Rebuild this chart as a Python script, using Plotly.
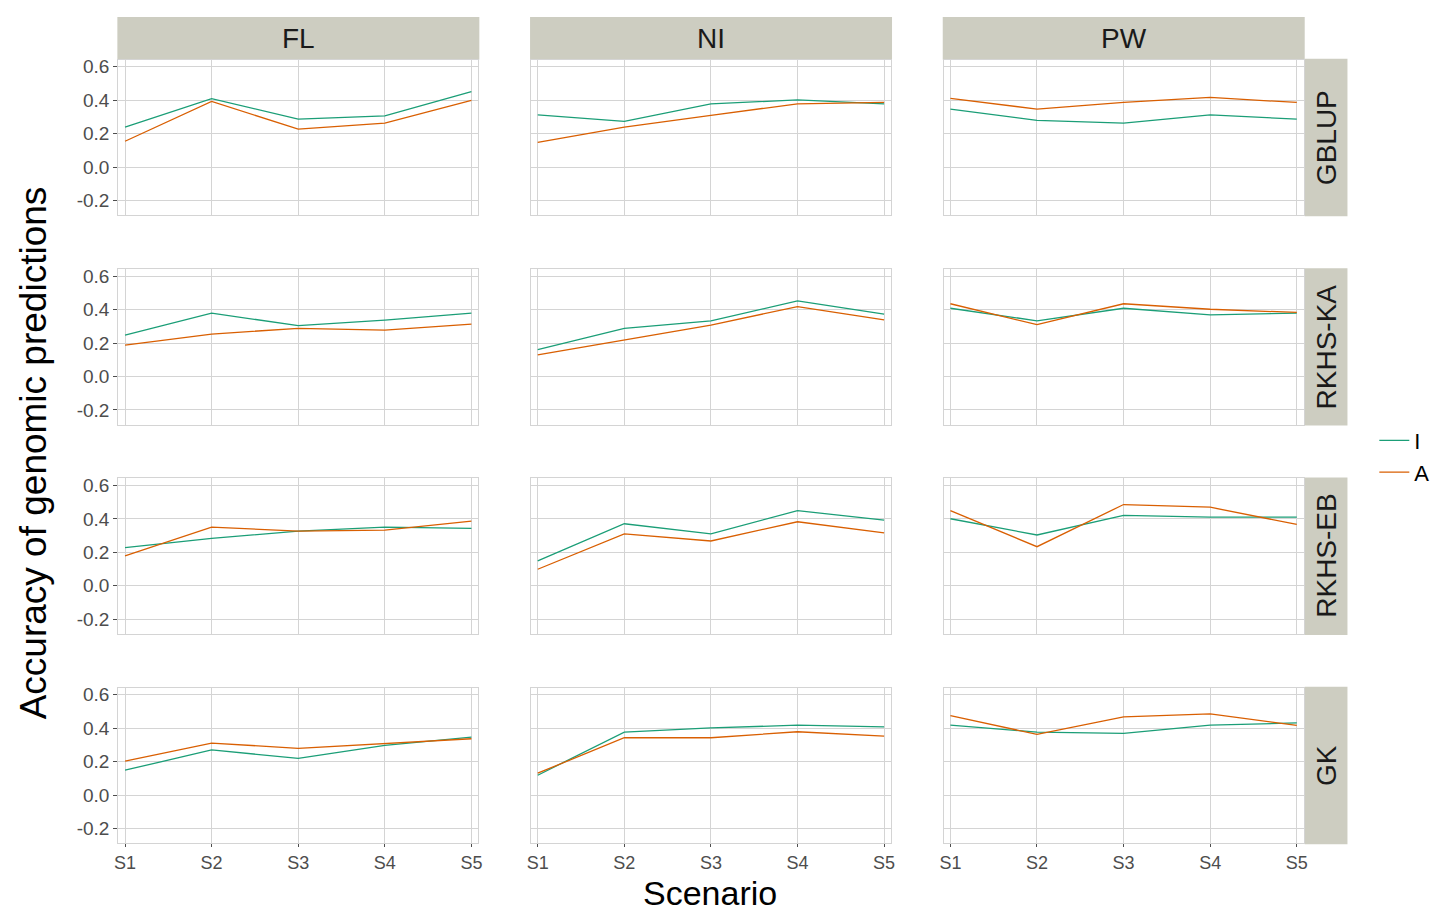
import plotly.graph_objects as go

# Facet layout: traits in columns, models in rows
traits = ["FL", "NI", "PW"]
models = ["GBLUP", "RKHS-KA", "RKHS-EB", "GK"]
scenarios = ["S1", "S2", "S3", "S4", "S5"]
scenario_pos = [1, 2, 3, 4, 5]

# Accuracy values for genotype set "I", per model then trait (S1..S5)
acc_I = {
    "GBLUP": {"FL": [0.240, 0.410, 0.287, 0.307, 0.452],
              "NI": [0.313, 0.274, 0.379, 0.402, 0.379],
              "PW": [0.347, 0.280, 0.264, 0.313, 0.287]},
    "RKHS-KA": {"FL": [0.248, 0.379, 0.304, 0.337, 0.379],
                "NI": [0.161, 0.288, 0.333, 0.452, 0.373],
                "PW": [0.408, 0.333, 0.408, 0.369, 0.379]},
    "RKHS-EB": {"FL": [0.228, 0.284, 0.327, 0.351, 0.343],
                "NI": [0.149, 0.371, 0.311, 0.450, 0.393],
                "PW": [0.401, 0.304, 0.421, 0.411, 0.411]},
    "GK": {"FL": [0.149, 0.270, 0.220, 0.298, 0.347],
           "NI": [0.119, 0.377, 0.402, 0.418, 0.408],
           "PW": [0.418, 0.377, 0.369, 0.418, 0.432]},
}

# Accuracy values for genotype set "A"
acc_A = {
    "GBLUP": {"FL": [0.155, 0.393, 0.228, 0.264, 0.399],
              "NI": [0.149, 0.240, 0.310, 0.379, 0.387],
              "PW": [0.412, 0.347, 0.387, 0.417, 0.387]},
    "RKHS-KA": {"FL": [0.188, 0.254, 0.288, 0.277, 0.313],
                "NI": [0.129, 0.220, 0.307, 0.418, 0.339],
                "PW": [0.435, 0.310, 0.435, 0.402, 0.383]},
    "RKHS-EB": {"FL": [0.179, 0.351, 0.327, 0.333, 0.387],
                "NI": [0.099, 0.311, 0.268, 0.383, 0.317],
                "PW": [0.450, 0.234, 0.486, 0.470, 0.367]},
    "GK": {"FL": [0.204, 0.311, 0.280, 0.307, 0.337],
           "NI": [0.131, 0.343, 0.343, 0.379, 0.353],
           "PW": [0.476, 0.363, 0.468, 0.486, 0.417]},
}

y_ticks = [-0.2, 0.0, 0.2, 0.4, 0.6]
y_tick_text = ["-0.2", "0.0", "0.2", "0.4", "0.6"]

color_I = "#1b9e77"
color_A = "#d95f02"
grid_col = "#d4d4d4"
strip_col = "#cdcdc1"
tick_col = "#4d4d4d"
FONT = "Liberation Sans, Arial, sans-serif"

W, H = 1435, 914
col_x = [(115, 477), (530, 892), (945, 1307)]
row_y = [(57, 213), (267, 423), (477, 633), (687, 843)]
strip_top = 14
strip_right = 1351


def px_x(v):
    return v / W


def px_y(v):
    return 1 - v / H


fig = go.Figure()
layout = {}
shapes = []
annotations = []

for r, model in enumerate(models):
    for c, trait in enumerate(traits):
        idx = r * 3 + c + 1
        xa = "xaxis" if idx == 1 else f"xaxis{idx}"
        ya = "yaxis" if idx == 1 else f"yaxis{idx}"
        xref = "x" if idx == 1 else f"x{idx}"
        yref = "y" if idx == 1 else f"y{idx}"
        x0, x1 = col_x[c]
        y0, y1 = row_y[r]
        layout[xa] = dict(
            domain=[px_x(x0), px_x(x1)], anchor=yref, range=[0.923, 5.08],
            tickmode="array", tickvals=scenario_pos, ticktext=scenarios,
            showticklabels=(r == 3), ticks="outside" if r == 3 else "",
            ticklen=3, tickcolor=tick_col, tickwidth=1,
            tickfont=dict(family=FONT, size=18, color=tick_col),
            showgrid=True, gridcolor=grid_col, gridwidth=1.3,
            showline=True, mirror=True, linecolor=grid_col, linewidth=1.3,
            zeroline=False, fixedrange=True,
        )
        layout[ya] = dict(
            domain=[px_y(y1), px_y(y0)], anchor=xref, range=[-0.2875, 0.642],
            tickmode="array", tickvals=y_ticks, ticktext=y_tick_text,
            showticklabels=(c == 0), ticks="outside" if c == 0 else "",
            ticklen=4, tickcolor=tick_col, tickwidth=1,
            tickfont=dict(family=FONT, size=19, color=tick_col),
            showgrid=True, gridcolor=grid_col, gridwidth=1.3,
            showline=True, mirror=True, linecolor=grid_col, linewidth=1.3,
            zeroline=False, fixedrange=True,
        )
        fig.add_trace(go.Scatter(
            x=scenario_pos, y=acc_I[model][trait], mode="lines",
            line=dict(color=color_I, width=1.3), name="I",
            legendgroup="I", showlegend=(idx == 1),
            xaxis=xref, yaxis=yref,
        ))
        fig.add_trace(go.Scatter(
            x=scenario_pos, y=acc_A[model][trait], mode="lines",
            line=dict(color=color_A, width=1.3), name="A",
            legendgroup="A", showlegend=(idx == 1),
            xaxis=xref, yaxis=yref,
        ))

# Column strips (trait names)
for c, trait in enumerate(traits):
    x0, x1 = col_x[c]
    shapes.append(dict(type="rect", xref="paper", yref="paper",
                       x0=px_x(x0 - 1), x1=px_x(x1 + 1), y0=px_y(row_y[0][0]), y1=px_y(strip_top),
                       fillcolor=strip_col, line=dict(width=0), layer="below"))
    annotations.append(dict(text=trait, xref="paper", yref="paper",
                            x=px_x((x0 + x1) / 2), y=px_y((strip_top + row_y[0][0]) / 2),
                            showarrow=False, xanchor="center", yanchor="middle",
                            font=dict(family=FONT, size=28, color="#1a1a1a")))

# Row strips (model names)
for r, model in enumerate(models):
    y0, y1 = row_y[r]
    shapes.append(dict(type="rect", xref="paper", yref="paper",
                       x0=px_x(col_x[2][1] + 1), x1=px_x(strip_right), y0=px_y(y1 + 1), y1=px_y(y0 - 1),
                       fillcolor=strip_col, line=dict(width=0), layer="below"))
    annotations.append(dict(text=model, xref="paper", yref="paper",
                            x=px_x((col_x[2][1] + strip_right) / 2 + 1), y=px_y((y0 + y1) / 2),
                            showarrow=False, xanchor="center", yanchor="middle", textangle=-90,
                            font=dict(family=FONT, size=28, color="#1a1a1a")))

# Axis titles
annotations.append(dict(text="Scenario", xref="paper", yref="paper",
                        x=px_x(710), y=px_y(893), showarrow=False,
                        xanchor="center", yanchor="middle",
                        font=dict(family=FONT, size=34, color="#000000")))
annotations.append(dict(text="Accuracy of genomic predictions", xref="paper", yref="paper",
                        x=px_x(30), y=px_y(451), showarrow=False, textangle=-90,
                        xanchor="center", yanchor="middle",
                        font=dict(family=FONT, size=37, color="#000000")))

fig.update_layout(
    width=W, height=H,
    margin=dict(l=0, r=0, t=0, b=0),
    paper_bgcolor="white", plot_bgcolor="white",
    shapes=shapes, annotations=annotations,
    legend=dict(x=px_x(1378), y=px_y(418), xanchor="left", yanchor="top",
                font=dict(family=FONT, size=22, color="#000000"),
                itemwidth=30, tracegroupgap=0, bgcolor="rgba(0,0,0,0)"),
    showlegend=True,
    **layout,
)

fig.write_html("out.html")
